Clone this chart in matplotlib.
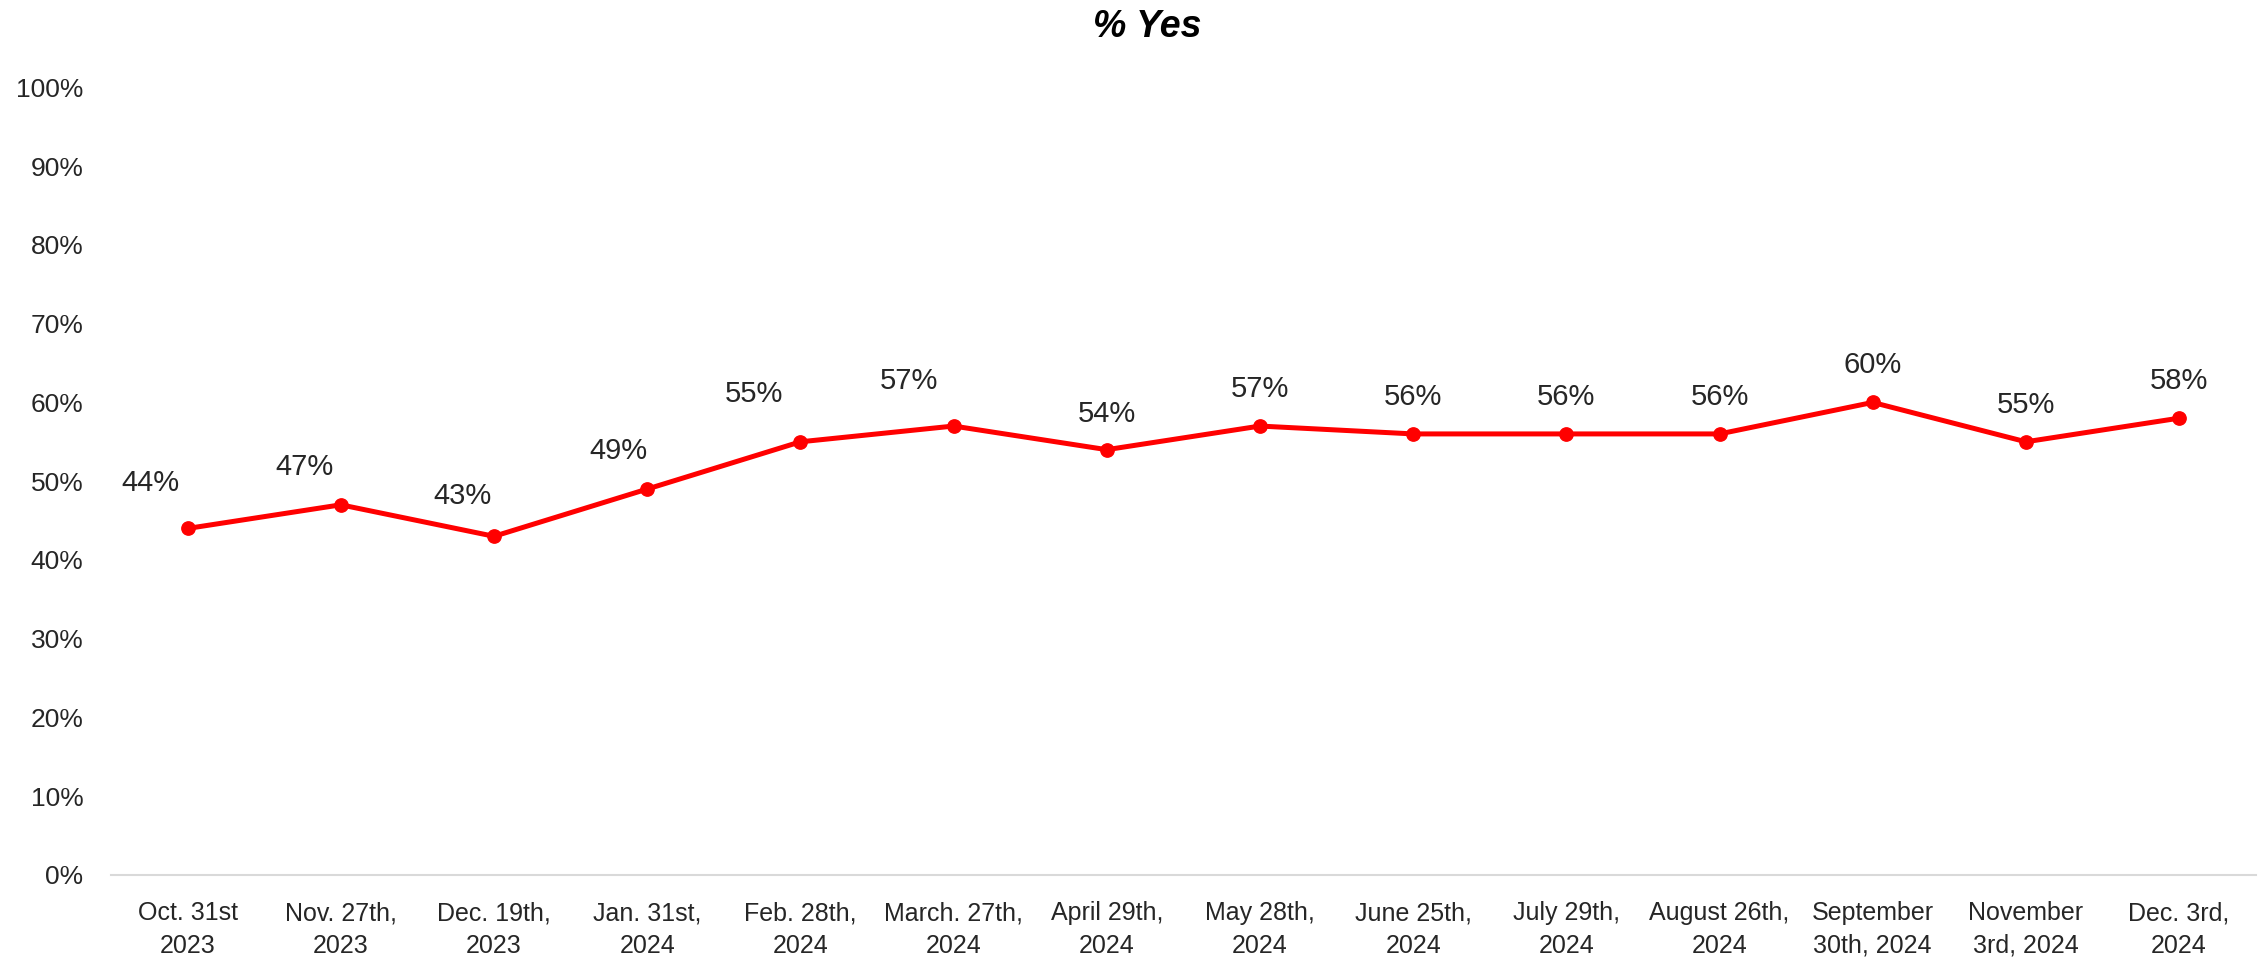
import matplotlib
matplotlib.use("Agg")
import matplotlib.pyplot as plt
from matplotlib.ticker import PercentFormatter

plt.rcParams['font.family'] = ['Liberation Sans', 'DejaVu Sans']

# survey dates and share answering "yes"
dates = ["Oct. 31st\n2023", "Nov. 27th,\n2023", "Dec. 19th,\n2023", "Jan. 31st,\n2024",
         "Feb. 28th,\n2024", "March. 27th,\n2024", "April 29th,\n2024", "May 28th,\n2024",
         "June 25th,\n2024", "July 29th,\n2024", "August 26th,\n2024", "September\n30th, 2024",
         "November\n3rd, 2024", "Dec. 3rd,\n2024"]
pct_yes = [44, 47, 43, 49, 55, 57, 54, 57, 56, 56, 56, 60, 55, 58]

# where each value label sits relative to its point (pixels)
label_offsets = [(-37, 45), (-36, 38), (-32, 40), (-29, 38), (-46, 48), (-45, 45),
                 (0, 36), (0, 37), (0, 37), (0, 37), (0, 37), (0, 37), (0, 37), (0, 37)]

text_col = "#262626"

fig = plt.figure(figsize=(22.67, 9.57), dpi=100)
ax = fig.add_axes([0.049, 0.0857, 0.946, 0.823])

x = list(range(len(dates)))
ax.plot(x, pct_yes, color="#FF0000", lw=3.6, marker="o", ms=9.6,
        solid_joinstyle="round", zorder=3)

for xi, v, off in zip(x, pct_yes, label_offsets):
    ax.annotate(f"{v}%", (xi, v), xytext=off, textcoords="offset pixels",
                ha="center", va="center", fontsize=21, color=text_col)

ax.set_xlim(-0.5, len(dates) - 0.5)
ax.set_ylim(0, 100)
ax.set_yticks(range(0, 101, 10))
ax.yaxis.set_major_formatter(PercentFormatter(decimals=0))
ax.set_xticks(x)
ax.set_xticklabels(dates, fontsize=18, color=text_col, linespacing=1.45)
ax.tick_params(axis="y", length=0, pad=20, labelsize=19, labelcolor=text_col)
ax.tick_params(axis="x", length=0, pad=19)

for side in ["top", "right", "left"]:
    ax.spines[side].set_visible(False)
ax.spines["bottom"].set_color("#D9D9D9")
ax.spines["bottom"].set_linewidth(1.5)

fig.text(0.506, 0.972, "% Yes", ha="center", va="center", fontsize=27,
         fontweight="bold", fontstyle="italic", color="black")

fig.savefig("out.png", dpi=100, facecolor="white")
